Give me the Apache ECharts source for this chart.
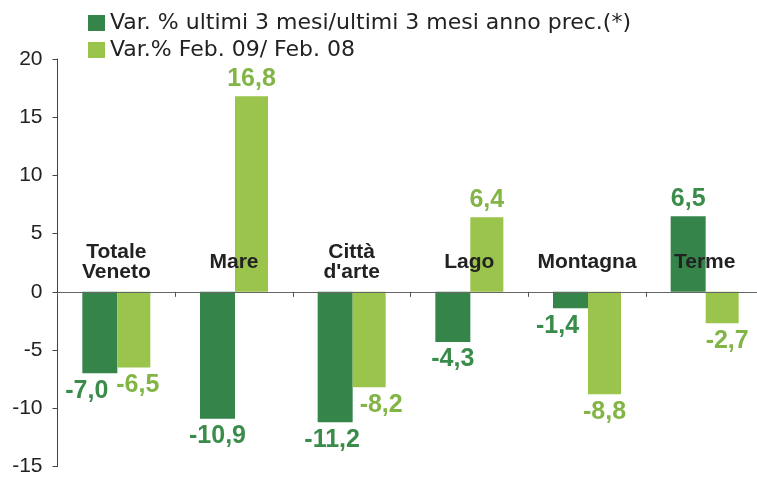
<!DOCTYPE html>
<html><head><meta charset="utf-8">
<script src="https://cdn.jsdelivr.net/npm/echarts@6/dist/echarts.min.js"></script>
<style>html,body{margin:0;padding:0;background:#fff;overflow:hidden}#wrap{width:757px;height:477px;overflow:hidden;position:relative}#c{width:772px;height:477px}</style>
</head><body><div id="wrap"><div id="c"></div></div>
<script>
const categories = ['Totale\nVeneto', 'Mare', 'Città\nd\'arte', 'Lago', 'Montagna', 'Terme'];
const seriesNames = ['Var. % ultimi 3 mesi/ultimi 3 mesi anno prec.(*)', 'Var.% Feb. 09/ Feb. 08'];
const var3Mesi = [-7.0, -10.9, -11.2, -4.3, -1.4, 6.5];
const varFeb = [-6.5, 16.8, -8.2, 6.4, -8.8, -2.7];
const yTicks = [-15, -10, -5, 0, 5, 10, 15, 20];

const fmt = p => p.value.toFixed(1).replace('.', ',');
const FONT = 'Liberation Sans, Arial, sans-serif';
const darkLabelShift = {0: -13, 2: -3, 4: -13};
const lightLabelShift = {0: 4, 2: 12, 5: 5};

function buildData(arr, shifts) {
  return arr.map((v, i) => shifts[i] !== undefined ? {value: v, label: {offset: [shifts[i], 0]}} : v);
}
function lbl(color) {
  return {
    show: true, position: 'outside', distance: 5, formatter: fmt,
    fontFamily: FONT, fontWeight: 'bold', fontSize: 25, color: color
  };
}

const chart = echarts.init(document.getElementById('c'), null, {renderer: 'canvas'});
chart.setOption({
  animation: false,
  legend: {
    orient: 'vertical', left: 83, top: 7, itemWidth: 17, itemHeight: 16, itemGap: 5,
    icon: 'rect',
    textStyle: {fontFamily: 'DejaVu Sans, sans-serif', fontSize: 22, color: '#222', padding: [0, 0, 0, 0]},
    data: seriesNames
  },
  grid: {left: 57.5, right: 8.5, top: 59, bottom: 7, containLabel: false},
  xAxis: {
    type: 'category', data: categories, z: 5,
    axisLine: {onZero: true, lineStyle: {color: '#666', width: 1}},
    axisTick: {show: true, length: 5, lineStyle: {color: '#555'}},
    axisLabel: {
      interval: 0, margin: -204, verticalAlign: 'middle', fontFamily: FONT, fontWeight: 'bold',
      fontSize: 21, lineHeight: 20, color: '#222'
    }
  },
  yAxis: {
    type: 'value', min: yTicks[0], max: yTicks[yTicks.length - 1], interval: 5,
    axisLine: {show: true, lineStyle: {color: '#444'}},
    axisTick: {show: true, length: 5, lineStyle: {color: '#444'}},
    splitLine: {show: false},
    axisLabel: {fontFamily: FONT, fontSize: 21, color: '#222', margin: 15}
  },
  series: [
    {name: seriesNames[0], type: 'bar', data: buildData(var3Mesi, darkLabelShift), barWidth: 35, barGap: '0%',
     itemStyle: {color: '#35844a'}, label: lbl('#3a8c4a')},
    {name: seriesNames[1], type: 'bar', data: buildData(varFeb, lightLabelShift), barWidth: 33, barGap: '0%',
     itemStyle: {color: '#9ac44c'}, label: lbl('#82b546')}
  ]
});
</script></body></html>
